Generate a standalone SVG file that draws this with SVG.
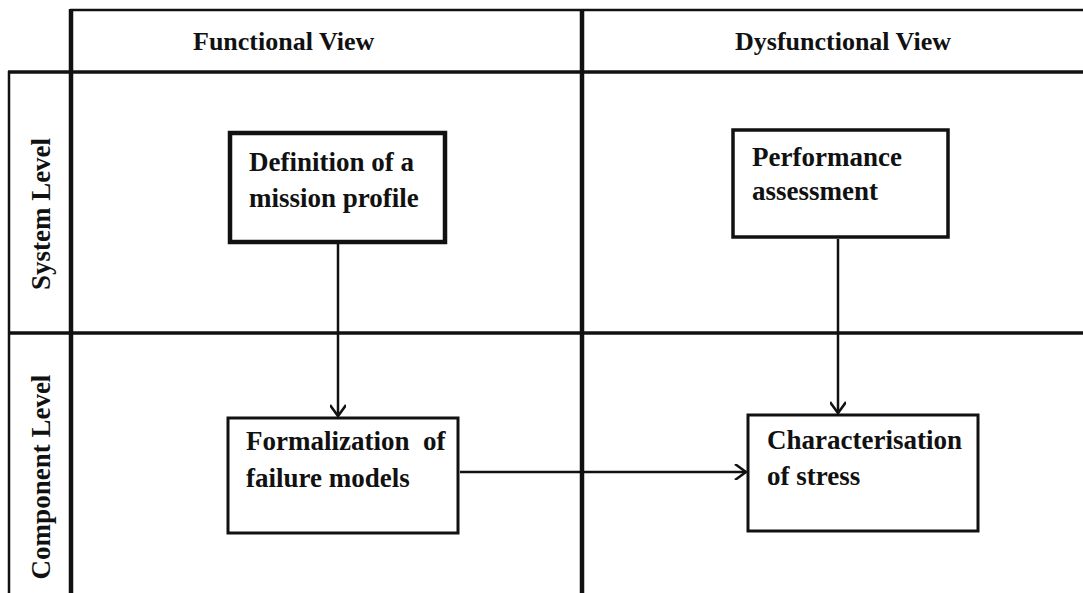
<svg xmlns="http://www.w3.org/2000/svg" width="1083" height="593" viewBox="0 0 1083 593">
<style>
text{font-family:"Liberation Serif","Times New Roman",serif;font-weight:bold;fill:#111;white-space:pre;}
.hdr{font-size:26px;}
.lbl{font-size:27px;}
.box{fill:#fff;stroke:#111;}
.conn{stroke:#111;stroke-width:2.5;fill:none;}
.grid{stroke:#111;fill:none;}
</style>
<defs>
<marker id="arr" markerWidth="16" markerHeight="16" refX="13" refY="8" orient="auto" markerUnits="userSpaceOnUse">
<path d="M2,0 L13,8 L2,16" fill="none" stroke="#111" stroke-width="2.5"/>
</marker>
</defs>
<rect width="1083" height="593" fill="#fff"/>
<g id="grid">
<line class="grid" x1="70" y1="10" x2="1083" y2="10" stroke-width="2.5"/>
<line class="grid" x1="8" y1="72" x2="1083" y2="72" stroke-width="3.5"/>
<line class="grid" x1="8" y1="333" x2="1083" y2="333" stroke-width="3.5"/>
<line class="grid" x1="9" y1="71" x2="9" y2="593" stroke-width="2.5"/>
<line class="grid" x1="71" y1="9" x2="71" y2="593" stroke-width="4.5"/>
<line class="grid" x1="582" y1="9" x2="582" y2="593" stroke-width="4.5"/>
</g>
<g id="header-functional"><text class="hdr" x="193" y="50">Functional View</text></g>
<g id="header-dysfunctional"><text class="hdr" x="735" y="50">Dysfunctional View</text></g>
<g id="row-system"><text class="lbl" transform="translate(50,214) rotate(-90)" text-anchor="middle">System Level</text></g>
<g id="row-component"><text class="lbl" transform="translate(50,477) rotate(-90)" text-anchor="middle">Component Level</text></g>
<g id="node-definition">
<rect class="box" x="230" y="133" width="215" height="109" stroke-width="4.5"/>
<text class="lbl" x="249" y="171">Definition of a</text>
<text class="lbl" x="249" y="207">mission profile</text>
</g>
<g id="node-performance">
<rect class="box" x="733" y="130" width="215" height="107" stroke-width="3.5"/>
<text class="lbl" x="752" y="166">Performance</text>
<text class="lbl" x="752" y="200">assessment</text>
</g>
<g id="node-formalization">
<rect class="box" x="228" y="418" width="230" height="115" stroke-width="3"/>
<text class="lbl" x="246" y="450">Formalization  of</text>
<text class="lbl" x="246" y="487">failure models</text>
</g>
<g id="node-characterisation">
<rect class="box" x="748" y="415" width="230" height="116" stroke-width="3"/>
<text class="lbl" x="767" y="449">Characterisation</text>
<text class="lbl" x="767" y="485">of stress</text>
</g>
<g id="connectors">
<line class="conn" x1="338" y1="244" x2="338" y2="416" marker-end="url(#arr)"/>
<line class="conn" x1="838" y1="239" x2="838" y2="413" marker-end="url(#arr)"/>
<line class="conn" x1="460" y1="472" x2="746" y2="472" marker-end="url(#arr)"/>
</g>
</svg>
